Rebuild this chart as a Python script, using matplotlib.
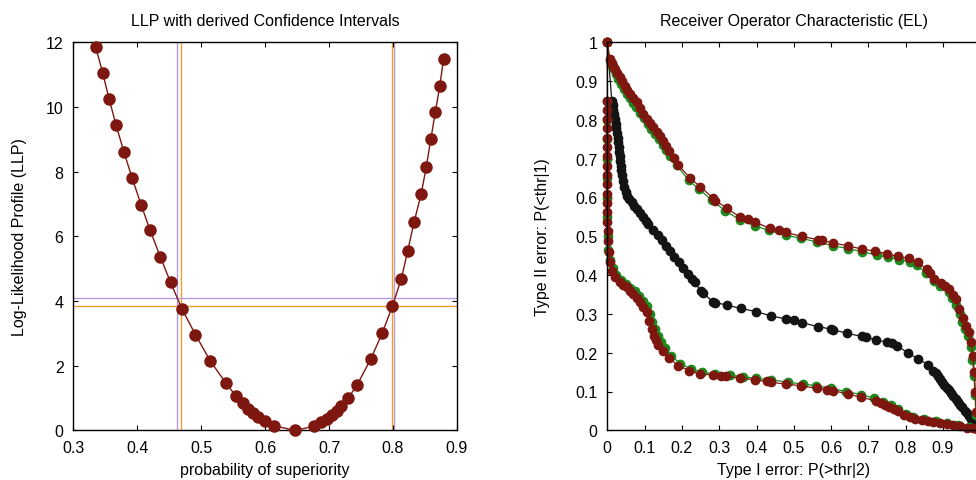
import matplotlib
matplotlib.use("Agg")
import matplotlib.pyplot as plt
import numpy as np

plt.rcParams['font.family'] = ['Liberation Sans', 'DejaVu Sans']
plt.rcParams['font.size'] = 11.5

# ---------------- Left panel data ----------------
llp_x = [0.335, 0.346, 0.356, 0.367, 0.379, 0.392, 0.406, 0.420, 0.436, 0.452,
         0.470, 0.491, 0.514, 0.539, 0.554, 0.566, 0.573, 0.581, 0.589, 0.600,
         0.614, 0.646, 0.676, 0.688, 0.696, 0.704, 0.712, 0.719, 0.730, 0.744,
         0.765, 0.783, 0.799, 0.813, 0.823, 0.833, 0.844, 0.852, 0.859, 0.866,
         0.873, 0.879]
llp_y = [11.86, 11.05, 10.25, 9.43, 8.62, 7.80, 6.98, 6.19, 5.37, 4.58,
         3.75, 2.96, 2.15, 1.45, 1.07, 0.84, 0.66, 0.53, 0.40, 0.28,
         0.14, 0.00, 0.12, 0.25, 0.35, 0.47, 0.61, 0.76, 1.00, 1.41,
         2.20, 3.00, 3.84, 4.69, 5.56, 6.45, 7.31, 8.15, 9.00, 9.83,
         10.64, 11.48]
ci_purple_x = [0.462, 0.801]
ci_orange_x = [0.469, 0.798]
ci_purple_y = 4.08
ci_orange_y = 3.84

# ---------------- Right panel data ----------------
black_x = [0.000, 0.012, 0.014, 0.016, 0.018, 0.020, 0.022, 0.024, 0.026, 0.028,
           0.030, 0.031, 0.032, 0.034, 0.035, 0.036, 0.037, 0.039, 0.041, 0.045,
           0.049, 0.052, 0.058, 0.065, 0.072, 0.079, 0.088, 0.097, 0.104, 0.110,
           0.123, 0.135, 0.146, 0.157, 0.168, 0.180, 0.192, 0.204, 0.216, 0.228,
           0.235, 0.250, 0.256, 0.283, 0.290, 0.320, 0.358, 0.399, 0.438, 0.479,
           0.500, 0.523, 0.566, 0.599, 0.606, 0.643, 0.682, 0.694, 0.720, 0.751,
           0.762, 0.778, 0.807, 0.834, 0.861, 0.874, 0.880, 0.886, 0.892, 0.898,
           0.904, 0.910, 0.916, 0.922, 0.928, 0.934, 0.940, 0.946, 0.952, 0.958,
           0.964, 0.970, 0.976, 0.982, 0.988, 0.994, 1.000]
black_y = [1.000, 0.850, 0.838, 0.826, 0.814, 0.802, 0.790, 0.778, 0.766, 0.754,
           0.742, 0.730, 0.718, 0.706, 0.694, 0.682, 0.670, 0.657, 0.643, 0.626,
           0.614, 0.605, 0.596, 0.588, 0.579, 0.570, 0.560, 0.549, 0.540, 0.532,
           0.516, 0.503, 0.491, 0.476, 0.461, 0.447, 0.433, 0.418, 0.403, 0.390,
           0.381, 0.360, 0.355, 0.331, 0.329, 0.323, 0.314, 0.306, 0.295, 0.287,
           0.283, 0.277, 0.267, 0.261, 0.259, 0.250, 0.242, 0.240, 0.233, 0.227,
           0.224, 0.218, 0.198, 0.184, 0.168, 0.154, 0.147, 0.139, 0.132, 0.125,
           0.117, 0.110, 0.103, 0.095, 0.088, 0.081, 0.073, 0.066, 0.059, 0.051,
           0.044, 0.037, 0.029, 0.022, 0.015, 0.007, 0.000]

upper_red_x = [0.000, 0.007, 0.012, 0.016, 0.021, 0.027, 0.034, 0.040, 0.047, 0.054,
               0.061, 0.070, 0.079, 0.088, 0.097, 0.106, 0.114, 0.123, 0.132, 0.141,
               0.150, 0.158, 0.166, 0.178, 0.190, 0.222, 0.249, 0.284, 0.290, 0.320,
               0.356, 0.376, 0.396, 0.436, 0.461, 0.478, 0.521, 0.566, 0.576, 0.606,
               0.644, 0.682, 0.719, 0.750, 0.780, 0.810, 0.832, 0.856, 0.866, 0.877,
               0.895, 0.905, 0.917, 0.927, 0.935, 0.944, 0.953, 0.962, 0.970, 0.975,
               0.980, 0.984, 0.987, 0.989, 1.000]
upper_red_y = [1.000, 0.957, 0.947, 0.939, 0.931, 0.921, 0.910, 0.899, 0.888, 0.877,
               0.867, 0.856, 0.845, 0.830, 0.816, 0.802, 0.791, 0.781, 0.770, 0.759,
               0.745, 0.733, 0.721, 0.702, 0.684, 0.650, 0.628, 0.598, 0.592, 0.573,
               0.549, 0.545, 0.536, 0.521, 0.516, 0.510, 0.500, 0.491, 0.490, 0.482,
               0.476, 0.467, 0.462, 0.454, 0.449, 0.443, 0.433, 0.416, 0.405, 0.390,
               0.380, 0.373, 0.364, 0.350, 0.338, 0.313, 0.290, 0.270, 0.253, 0.227,
               0.192, 0.149, 0.098, 0.046, 0.000]

upper_green_x = [0.000, 0.006, 0.011, 0.017, 0.023, 0.030, 0.037, 0.044, 0.052, 0.060,
                 0.069, 0.078, 0.088, 0.098, 0.108, 0.118, 0.128, 0.138, 0.148, 0.158,
                 0.168, 0.186, 0.218, 0.246, 0.280, 0.316, 0.356, 0.396, 0.434, 0.478,
                 0.520, 0.563, 0.604, 0.646, 0.684, 0.722, 0.752, 0.782, 0.812, 0.830,
                 0.855, 0.875, 0.893, 0.915, 0.925, 0.935, 0.945, 0.952, 0.960, 0.968,
                 0.974, 0.979, 0.983, 0.986, 0.988, 1.000]
upper_green_y = [1.000, 0.952, 0.942, 0.930, 0.918, 0.905, 0.893, 0.880, 0.868, 0.856,
                 0.844, 0.832, 0.818, 0.804, 0.790, 0.776, 0.763, 0.750, 0.736, 0.722,
                 0.708, 0.684, 0.644, 0.622, 0.593, 0.566, 0.542, 0.527, 0.515, 0.503,
                 0.495, 0.485, 0.476, 0.468, 0.460, 0.452, 0.446, 0.440, 0.434, 0.425,
                 0.405, 0.384, 0.372, 0.357, 0.340, 0.322, 0.300, 0.280, 0.262, 0.244,
                 0.215, 0.180, 0.140, 0.090, 0.040, 0.000]

lower_red_x = [0.000, 0.000, 0.000, 0.000, 0.000, 0.000, 0.000, 0.000, 0.000, 0.000,
               0.000, 0.000, 0.000, 0.000, 0.000, 0.001, 0.002, 0.004, 0.007, 0.012,
               0.021, 0.034, 0.043, 0.052, 0.061, 0.070, 0.079, 0.088, 0.097, 0.106,
               0.113, 0.119, 0.125, 0.131, 0.137, 0.148, 0.166, 0.189, 0.220, 0.249,
               0.284, 0.304, 0.318, 0.356, 0.396, 0.427, 0.438, 0.479, 0.518, 0.563,
               0.588, 0.606, 0.644, 0.680, 0.720, 0.734, 0.745, 0.756, 0.768, 0.779,
               0.796, 0.811, 0.826, 0.845, 0.860, 0.874, 0.892, 0.910, 0.928, 0.946,
               0.964, 0.981, 0.992, 1.000]
lower_red_y = [1.000, 0.850, 0.826, 0.802, 0.778, 0.754, 0.730, 0.706, 0.682, 0.658,
               0.634, 0.610, 0.586, 0.562, 0.538, 0.514, 0.489, 0.459, 0.433, 0.411,
               0.394, 0.381, 0.375, 0.369, 0.360, 0.351, 0.341, 0.330, 0.318, 0.304,
               0.282, 0.261, 0.244, 0.232, 0.220, 0.205, 0.186, 0.167, 0.154, 0.145,
               0.143, 0.139, 0.139, 0.135, 0.130, 0.126, 0.124, 0.119, 0.115, 0.108,
               0.105, 0.102, 0.094, 0.085, 0.076, 0.070, 0.064, 0.059, 0.055, 0.051,
               0.039, 0.033, 0.029, 0.026, 0.024, 0.022, 0.019, 0.016, 0.013, 0.010,
               0.007, 0.005, 0.003, 0.000]

lower_green_x = [0.000, 0.000, 0.000, 0.000, 0.000, 0.000, 0.000, 0.001, 0.003, 0.008,
                 0.014, 0.024, 0.037, 0.050, 0.062, 0.074, 0.086, 0.097, 0.106, 0.114,
                 0.121, 0.128, 0.135, 0.143, 0.154, 0.172, 0.195, 0.225, 0.255, 0.290,
                 0.330, 0.365, 0.398, 0.440, 0.485, 0.525, 0.560, 0.600, 0.640, 0.680,
                 0.715, 0.740, 0.760, 0.780, 0.800, 0.820, 0.850, 0.880, 0.910, 0.940,
                 0.970, 1.000]
lower_green_y = [0.850, 0.800, 0.750, 0.700, 0.650, 0.600, 0.550, 0.500, 0.465, 0.440,
                 0.418, 0.400, 0.387, 0.377, 0.368, 0.358, 0.346, 0.334, 0.320, 0.300,
                 0.280, 0.262, 0.243, 0.228, 0.212, 0.192, 0.172, 0.158, 0.150, 0.145,
                 0.142, 0.138, 0.134, 0.130, 0.124, 0.119, 0.115, 0.108, 0.100, 0.092,
                 0.083, 0.073, 0.064, 0.055, 0.043, 0.035, 0.029, 0.024, 0.019, 0.014,
                 0.009, 0.000]

x_tick_labels_L = ['0.3', '0.4', '0.5', '0.6', '0.7', '0.8', '0.9']
roc_ticks = [0.0, 0.1, 0.2, 0.3, 0.4, 0.5, 0.6, 0.7, 0.8, 0.9, 1.0]
roc_y_labels = ['0', '0.1', '0.2', '0.3', '0.4', '0.5', '0.6', '0.7', '0.8', '0.9', '1']
roc_x_labels = ['0', '0.1', '0.2', '0.3', '0.4', '0.5', '0.6', '0.7', '0.8', '0.9', '']

DARKRED = '#7e1710'
GREEN = '#1e8a1e'
BLACK = '#141414'
ORANGE = '#f0a02a'
PURPLE = '#b89ae0'
FS = 11.5

fig = plt.figure(figsize=(9.76, 4.81), dpi=100)

# ---------------- Left panel ----------------
axL = fig.add_axes([73.3 / 976, 1 - 431.3 / 481, (457 - 73.3) / 976, (431.3 - 43.3) / 481])
for xv in ci_purple_x:
    axL.axvline(xv, color=PURPLE, lw=1.0, zorder=1)
for xv in ci_orange_x:
    axL.axvline(xv, color=ORANGE, lw=1.0, zorder=1)
axL.axhline(ci_purple_y, color=PURPLE, lw=1.0, zorder=1)
axL.axhline(ci_orange_y, color=ORANGE, lw=1.0, zorder=1)
axL.plot(llp_x, llp_y, '-o', color=DARKRED, lw=1.0, ms=8, mec=DARKRED, mfc=DARKRED,
         zorder=3, clip_on=False)
axL.set_xlim(0.3, 0.9)
axL.set_ylim(0, 12)
axL.set_xticks([0.3, 0.4, 0.5, 0.6, 0.7, 0.8, 0.9])
axL.set_xticklabels(x_tick_labels_L)
axL.set_yticks(range(0, 13, 2))
axL.tick_params(direction='in', top=True, right=True, length=3.5, width=0.8, labelsize=FS, pad=7)
axL.set_title('LLP with derived Confidence Intervals', fontsize=FS, pad=12.5)
axL.set_xlabel('probability of superiority', fontsize=FS)
axL.set_ylabel('Log-Likelihood Profile (LLP)', fontsize=FS)
axL.yaxis.set_label_coords((27 - 73.3) / 383.7, 0.5)
axL.xaxis.set_label_coords(0.5, -(463 - 431.3) / 388)
for s in axL.spines.values():
    s.set_linewidth(1.0)

# ---------------- Right panel ----------------
axR = fig.add_axes([607.3 / 976, 1 - 431.3 / 481, 373 / 976, (431.3 - 43.3) / 481])
axR.plot(black_x, black_y, '-o', color=BLACK, lw=0.9, ms=6, zorder=2, clip_on=False)
axR.plot(upper_green_x, upper_green_y, '-o', color=GREEN, lw=0.9, ms=6, zorder=2, clip_on=False)
axR.plot(lower_green_x, lower_green_y, '-o', color=GREEN, lw=0.9, ms=6, zorder=2, clip_on=False)
axR.plot(upper_red_x, upper_red_y, '-o', color=DARKRED, lw=0.9, ms=6, zorder=2.2, clip_on=False)
axR.plot(lower_red_x, lower_red_y, '-o', color=DARKRED, lw=0.9, ms=6, zorder=2.2, clip_on=False)
axR.set_xlim(0, 1)
axR.set_ylim(0, 1)
axR.set_xticks(roc_ticks)
axR.set_xticklabels(roc_x_labels)
axR.set_yticks(roc_ticks)
axR.set_yticklabels(roc_y_labels)
axR.tick_params(direction='in', top=True, right=False, length=3.5, width=0.8, labelsize=FS, pad=7)
axR.set_title('Receiver Operator Characteristic (EL)', fontsize=FS, pad=12.5)
axR.set_xlabel('Type I error: P(>thr|2)', fontsize=FS)
axR.set_ylabel('Type II error: P(<thr|1)', fontsize=FS)
axR.yaxis.set_label_coords((550 - 607.3) / 373, 0.5)
axR.xaxis.set_label_coords(0.5, -(463 - 431.3) / 388)
for s in axR.spines.values():
    s.set_linewidth(1.0)

fig.savefig('out.png', dpi=100)
